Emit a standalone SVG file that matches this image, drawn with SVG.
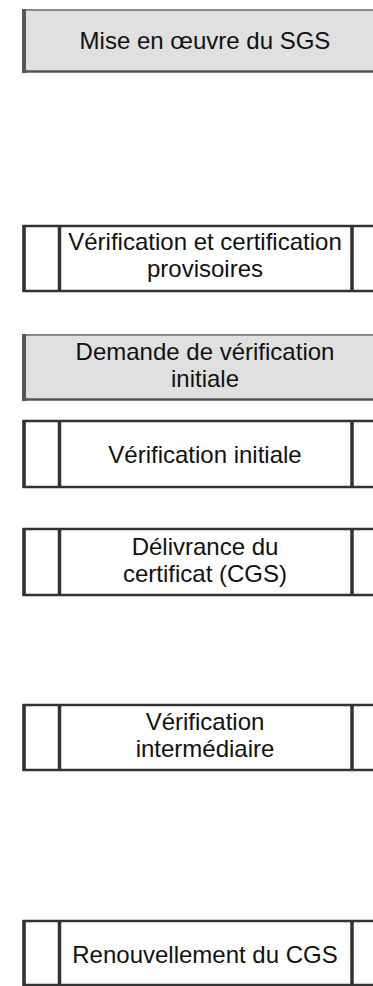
<svg xmlns="http://www.w3.org/2000/svg" width="373" height="986" viewBox="0 0 373 986">
<defs>
<style>
text{font-family:"Liberation Sans",Arial,sans-serif;font-size:24px;fill:#111;text-anchor:middle}
.gfill{fill:#e0e0e0;stroke:none}
.gtop{stroke:#8a8a8a;stroke-width:2;fill:none}
.gleft{stroke:#555;stroke-width:4;fill:none}
.gbot{stroke:#555;stroke-width:2.5;fill:none}
.wfill{fill:#fff;stroke:#333;stroke-width:2.5}
.vl{stroke:#333;stroke-width:3.5;fill:none}
</style>
</defs>
<rect width="373" height="986" fill="#fff"/>
<g id="connectors"/>
<g id="n1">
<rect class="gfill" x="23" y="10" width="360" height="62"/>
<line class="gtop" x1="23" y1="10" x2="383" y2="10"/>
<line class="gbot" x1="23" y1="71.5" x2="383" y2="71.5"/>
<line class="gleft" x1="24" y1="9" x2="24" y2="73"/>
<text x="205" y="49">Mise en œuvre du SGS</text>
</g>
<g id="n2">
<rect class="wfill" x="24" y="226" width="360" height="65"/>
<line class="vl" x1="24" y1="225" x2="24" y2="292"/>
<line class="vl" x1="59.5" y1="225" x2="59.5" y2="292"/>
<line class="vl" x1="352" y1="225" x2="352" y2="292"/>
<text x="205" y="250">Vérification et certification</text>
<text x="205" y="277">provisoires</text>
</g>
<g id="n3">
<rect class="gfill" x="23" y="335" width="360" height="65"/>
<line class="gtop" x1="23" y1="335" x2="383" y2="335"/>
<line class="gbot" x1="23" y1="399.5" x2="383" y2="399.5"/>
<line class="gleft" x1="24" y1="334" x2="24" y2="401"/>
<text x="205" y="360">Demande de vérification</text>
<text x="205" y="387">initiale</text>
</g>
<g id="n4">
<rect class="wfill" x="24" y="421" width="360" height="66"/>
<line class="vl" x1="24" y1="420" x2="24" y2="488"/>
<line class="vl" x1="59.5" y1="420" x2="59.5" y2="488"/>
<line class="vl" x1="352" y1="420" x2="352" y2="488"/>
<text x="205" y="463">Vérification initiale</text>
</g>
<g id="n5">
<rect class="wfill" x="24" y="529" width="360" height="66"/>
<line class="vl" x1="24" y1="528" x2="24" y2="596"/>
<line class="vl" x1="59.5" y1="528" x2="59.5" y2="596"/>
<line class="vl" x1="352" y1="528" x2="352" y2="596"/>
<text x="205" y="555">Délivrance du</text>
<text x="205" y="582">certificat (CGS)</text>
</g>
<g id="n6">
<rect class="wfill" x="24" y="705" width="360" height="65"/>
<line class="vl" x1="24" y1="704" x2="24" y2="771"/>
<line class="vl" x1="59.5" y1="704" x2="59.5" y2="771"/>
<line class="vl" x1="352" y1="704" x2="352" y2="771"/>
<text x="205" y="730">Vérification</text>
<text x="205" y="757">intermédiaire</text>
</g>
<g id="n7">
<rect class="wfill" x="24" y="921" width="360" height="64"/>
<line class="vl" x1="24" y1="920" x2="24" y2="986"/>
<line class="vl" x1="59.5" y1="920" x2="59.5" y2="986"/>
<line class="vl" x1="352" y1="920" x2="352" y2="986"/>
<text x="205" y="963">Renouvellement du CGS</text>
</g>
</svg>
